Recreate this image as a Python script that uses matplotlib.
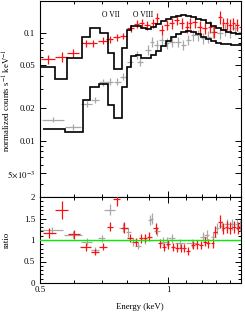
import matplotlib
matplotlib.use("Agg")
import matplotlib.pyplot as plt
import numpy as np
from matplotlib.ticker import FixedLocator, FixedFormatter, MultipleLocator, NullFormatter

plt.rcParams["font.family"] = ["Liberation Serif", "DejaVu Serif"]
plt.rcParams["mathtext.fontset"] = "stix"
plt.rcParams["font.size"] = 6.3

# --- spectrum data (keV, normalized counts s^-1 keV^-1) ---
red_e = [0.5228, 0.5621, 0.5986, 0.6403, 0.6650, 0.7021, 0.7303, 0.7574, 0.7849,
         0.8165, 0.8438, 0.8670, 0.8907, 0.9234, 0.9406, 0.9664, 0.9930, 1.0203,
         1.0483, 1.0771, 1.1065, 1.1265, 1.1573, 1.1891, 1.2216, 1.2552, 1.2848,
         1.3251, 1.3491, 1.3742, 1.3988, 1.4241, 1.4507, 1.4906]
red_val = [0.0571, 0.0603, 0.0657, 0.0803, 0.0803, 0.0849, 0.0874, 0.0912, 0.0938,
           0.1105, 0.1211, 0.1230, 0.1186, 0.1230, 0.1368, 0.1066, 0.1186, 0.1230,
           0.1319, 0.1230, 0.1144, 0.1230, 0.1272, 0.1144, 0.1105, 0.1144, 0.1028,
           0.1416, 0.1230, 0.1230, 0.1186, 0.1230, 0.1186, 0.1144]
red_rel = [0.10, 0.10, 0.09, 0.08, 0.08, 0.07, 0.07, 0.07, 0.07,
           0.08, 0.09, 0.10, 0.10, 0.10, 0.11, 0.11, 0.11, 0.11,
           0.11, 0.12, 0.12, 0.12, 0.12, 0.12, 0.12, 0.12, 0.13,
           0.14, 0.13, 0.13, 0.13, 0.13, 0.13, 0.13]

gray_e = [0.5374, 0.5986, 0.6437, 0.6734, 0.7043, 0.7303, 0.7598, 0.7849, 0.8138,
          0.8438, 0.8591, 0.8986, 0.9154, 0.9406, 0.9664, 0.9930, 1.0203, 1.0575,
          1.0863, 1.1162, 1.1467, 1.1782, 1.2107, 1.2437, 1.2780, 1.3251, 1.3616,
          1.3988, 1.4373, 1.4906]
gray_val = [0.0157, 0.0134, 0.0220, 0.0240, 0.0347, 0.0354, 0.0354, 0.0394, 0.0540,
            0.0626, 0.0542, 0.0696, 0.0831, 0.0774, 0.0862, 0.0803, 0.0831, 0.0831,
            0.0774, 0.0862, 0.0958, 0.0958, 0.0893, 0.0924, 0.1028, 0.0994, 0.1066,
            0.1028, 0.1105, 0.1028]
gray_rel = [0.06, 0.06, 0.07, 0.07, 0.07, 0.07, 0.07, 0.07, 0.08,
            0.09, 0.09, 0.10, 0.10, 0.10, 0.11, 0.11, 0.11, 0.11,
            0.11, 0.11, 0.12, 0.12, 0.12, 0.12, 0.12, 0.12, 0.13,
            0.13, 0.13, 0.13]

# --- folded models (step histograms) ---
model_hi_edges = [0.5000, 0.5424, 0.5777, 0.6265, 0.6554, 0.6918, 0.7236, 0.7464, 0.7781,
                  0.8007, 0.8182, 0.8408, 0.8636, 0.8874, 0.9119, 0.9371, 0.9629, 0.9893,
                  1.0166, 1.0445, 1.0731, 1.1025, 1.1326, 1.1637, 1.1956, 1.2285, 1.2622,
                  1.2967, 1.3323, 1.3689, 1.4065, 1.4452, 1.4848]
model_hi = [0.0487, 0.0373, 0.0583, 0.0924, 0.1105, 0.0994, 0.0657, 0.0467, 0.0727,
            0.1060, 0.1160, 0.1160, 0.1120, 0.1090, 0.1140, 0.1200, 0.1280, 0.1350,
            0.1410, 0.1450, 0.1470, 0.1450, 0.1420, 0.1360, 0.1310, 0.1240, 0.1170,
            0.1120, 0.1070, 0.1020, 0.1000, 0.0980]

model_lo_edges = [0.5082, 0.5724, 0.6300, 0.6554, 0.6893, 0.7236, 0.7464, 0.7781,
                  0.8007, 0.8182, 0.8408, 0.8636, 0.8874, 0.9119, 0.9371, 0.9629, 0.9893,
                  1.0166, 1.0445, 1.0731, 1.1025, 1.1326, 1.1637, 1.1956, 1.2285, 1.2622,
                  1.2967, 1.3323, 1.3689, 1.4065, 1.4452, 1.4848]
model_lo = [0.0129, 0.0120, 0.0237, 0.0314, 0.0337, 0.0216, 0.0162, 0.0318,
            0.0488, 0.0612, 0.0626, 0.0587, 0.0587, 0.0626, 0.0681, 0.0758, 0.0834,
            0.0908, 0.0979, 0.1021, 0.1032, 0.1011, 0.0969, 0.0918, 0.0871, 0.0834,
            0.0808, 0.0791, 0.0783, 0.0774, 0.0774]

# --- ratio panel ---
red_ratio_e = [0.5255, 0.5621, 0.6009, 0.6403, 0.6734, 0.7043, 0.7303, 0.7574, 0.7891,
               0.8138, 0.8394, 0.8636, 0.8826, 0.9036, 0.9350, 0.9576, 0.9785, 1.0016,
               1.0259, 1.0483, 1.0712, 1.0905, 1.1162, 1.1430, 1.1680, 1.1935, 1.2216,
               1.2437, 1.2739, 1.2898, 1.3251, 1.3491, 1.3742, 1.3988, 1.4297, 1.4634,
               1.4985]
red_ratio = [1.16, 1.70, 1.13, 0.84, 0.71, 0.84, 1.31, 1.95, 1.29,
             1.04, 0.96, 1.04, 1.05, 1.08, 1.27, 0.92, 0.84, 0.90,
             0.84, 0.82, 0.81, 0.81, 0.74, 0.88, 0.90, 0.88, 0.96,
             0.92, 0.92, 1.19, 1.43, 1.27, 1.31, 1.27, 1.31, 1.27,
             1.31]
red_ratio_err = [0.12, 0.21, 0.11, 0.09, 0.07, 0.08, 0.11, 0.15, 0.12,
                 0.09, 0.09, 0.10, 0.10, 0.10, 0.12, 0.10, 0.10, 0.10,
                 0.10, 0.10, 0.10, 0.10, 0.09, 0.10, 0.10, 0.10, 0.11,
                 0.11, 0.11, 0.13, 0.15, 0.13, 0.14, 0.14, 0.14, 0.14,
                 0.14]

gray_ratio_e = [0.5327, 0.5986, 0.6437, 0.6734, 0.6983, 0.7303, 0.7849, 0.8064, 0.8284,
                0.8512, 0.8826, 0.9070, 0.9154, 0.9406, 0.9749, 0.9950, 1.0203, 1.0673,
                1.1370, 1.2107, 1.2325, 1.2780, 1.3017, 1.3370, 1.3742, 1.4115, 1.4507,
                1.4757]
gray_ratio = [1.23, 1.12, 0.96, 0.77, 1.04, 1.70, 1.29, 1.18, 0.96,
              0.87, 1.00, 1.47, 1.50, 1.20, 0.96, 0.96, 1.04, 0.92,
              0.92, 1.08, 1.12, 1.08, 1.27, 1.33, 1.37, 1.37, 1.37,
              1.33]
gray_ratio_err = [0.08, 0.08, 0.08, 0.07, 0.08, 0.13, 0.11, 0.10, 0.09,
                  0.09, 0.10, 0.12, 0.12, 0.11, 0.10, 0.10, 0.10, 0.10,
                  0.10, 0.11, 0.11, 0.11, 0.12, 0.12, 0.13, 0.13, 0.13,
                  0.13]

ratio_ticks = [0, 0.5, 1, 1.5, 2]
ratio_labels = ["0", "0.5", "1", "1.5", "2"]

RED = "#ff1010"
GRAY = "#a8a8a8"


def half_widths(e):
    e = np.asarray(e)
    return np.gradient(e) / 2


def style_axis(ax):
    ax.set_xscale("log")
    ax.set_xlim(0.5, 1.485)
    ax.tick_params(which="both", direction="in", top=True, right=True, width=0.7)
    ax.tick_params(which="major", length=4)
    ax.tick_params(which="minor", length=2.2)
    ax.xaxis.set_major_locator(FixedLocator([0.5, 1.0]))
    ax.xaxis.set_major_formatter(FixedFormatter(["0.5", "1"]))
    ax.xaxis.set_minor_locator(FixedLocator([0.6, 0.7, 0.8, 0.9, 1.1, 1.2, 1.3, 1.4]))
    ax.xaxis.set_minor_formatter(NullFormatter())
    for sp in ax.spines.values():
        sp.set_linewidth(0.8)


fig = plt.figure(figsize=(2.45, 3.13), dpi=100)
ax1 = fig.add_axes([40 / 245, 1 - 197 / 313, 201 / 245, 196 / 313])
ax2 = fig.add_axes([40 / 245, 1 - 283 / 313, 201 / 245, 86 / 313])

# top panel
ax1.errorbar(gray_e, gray_val, xerr=half_widths(gray_e),
             yerr=np.array(gray_val) * np.array(gray_rel),
             fmt="none", ecolor=GRAY, elinewidth=0.9, capsize=0, zorder=2)
ax1.errorbar(red_e, red_val, xerr=half_widths(red_e),
             yerr=np.array(red_val) * np.array(red_rel),
             fmt="none", ecolor=RED, elinewidth=0.9, capsize=0, zorder=2)
ax1.stairs(model_hi, model_hi_edges, color="black", lw=1.2, baseline=None, zorder=3)
ax1.stairs(model_lo, model_lo_edges, color="black", lw=1.2, baseline=None, zorder=3)

style_axis(ax1)
ax1.set_yscale("log")
ax1.set_ylim(0.003, 0.198)
ax1.yaxis.set_major_locator(FixedLocator([0.005, 0.01, 0.02, 0.05, 0.1]))
ax1.yaxis.set_major_formatter(FixedFormatter(
    [r"$5\!\times\!10^{-3}$", "0.01", "0.02", "0.05", "0.1"]))
ax1.yaxis.set_minor_locator(FixedLocator(
    [0.003, 0.004, 0.006, 0.007, 0.008, 0.009, 0.03, 0.04, 0.06, 0.07, 0.08, 0.09]))
ax1.yaxis.set_minor_formatter(NullFormatter())
ax1.tick_params(axis="x", labelbottom=False)
ax1.text(0.7345, 0.147, "O VII", ha="center", va="center", fontsize=5.5)
ax1.text(0.8732, 0.147, "O VIII", ha="center", va="center", fontsize=5.5)

# ratio panel
ax2.errorbar(gray_ratio_e, gray_ratio, xerr=half_widths(gray_ratio_e), yerr=gray_ratio_err,
             fmt="none", ecolor=GRAY, elinewidth=0.9, capsize=0, zorder=2)
ax2.errorbar(red_ratio_e, red_ratio, xerr=half_widths(red_ratio_e), yerr=red_ratio_err,
             fmt="none", ecolor=RED, elinewidth=0.9, capsize=0, zorder=3)
ax2.axhline(1.0, color="#00ee00", lw=1.0, zorder=4)

style_axis(ax2)
ax2.set_ylim(0, 2)
ax2.yaxis.set_major_locator(FixedLocator(ratio_ticks))
ax2.yaxis.set_major_formatter(FixedFormatter(ratio_labels))
ax2.yaxis.set_minor_locator(MultipleLocator(0.1))
ax2.yaxis.set_minor_formatter(NullFormatter())
ax2.tick_params(axis="x", pad=2)

fig.text(7 / 245, 1 - 100 / 313, r"normalized counts s$^{-1}$ keV$^{-1}$",
         rotation=90, ha="center", va="center")
fig.text(7 / 245, 1 - 240 / 313, "ratio", rotation=90, ha="center", va="center")
fig.text(140 / 245, 1 - 307 / 313, "Energy (keV)", ha="center", va="center")

fig.savefig("out.png", dpi=100)
